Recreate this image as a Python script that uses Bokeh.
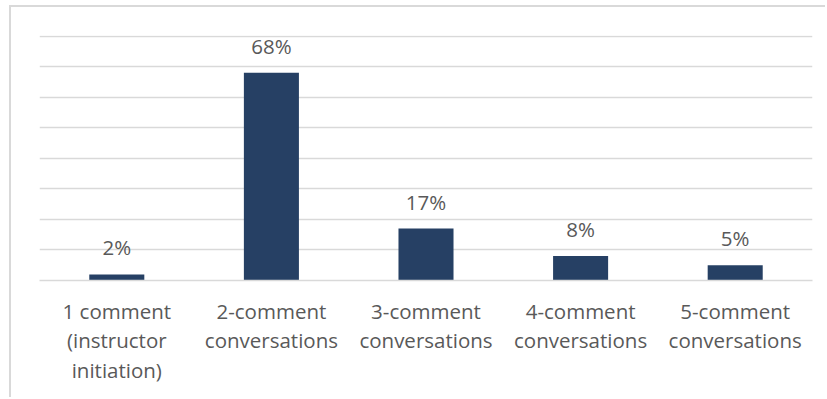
from bokeh.plotting import figure
from bokeh.models import ColumnDataSource, LabelSet, Range1d, FixedTicker
from bokeh.core.properties import value
from bokeh.embed import file_html
from bokeh.resources import INLINE

categories = ["1 comment\n(instructor\ninitiation)", "2-comment\nconversations", "3-comment\nconversations",
              "4-comment\nconversations", "5-comment\nconversations"]
values = [2, 68, 17, 8, 5]
labels = ["2%", "68%", "17%", "8%", "5%"]
y_ticks = [0, 10, 20, 30, 40, 50, 60, 70, 80]

src = ColumnDataSource(dict(cat=categories, val=values, lab=labels))

p = figure(x_range=categories, y_range=Range1d(0, 80.2), width=816, height=392,
           output_backend="svg", toolbar_location=None,
           min_border_left=28, min_border_right=15, min_border_top=28, min_border_bottom=119)
p.styles = {"margin-left": "9px", "margin-top": "5px",
            "border-left": "2px solid #d9d9d9", "border-top": "2px solid #d9d9d9"}
p.outline_line_color = None
p.background_fill_color = "white"
p.border_fill_color = "white"

p.vbar(x="cat", top="val", width=0.356, source=src, fill_color="#264064", line_color=None)

p.add_layout(LabelSet(x="cat", y="val", text="lab", source=src, text_align="center",
                      text_baseline="alphabetic", y_offset=19, text_font=value("Open Sans"),
                      text_font_size="20.5px", text_color="#595959"))

p.yaxis.visible = False
p.ygrid.ticker = FixedTicker(ticks=y_ticks)
p.ygrid.grid_line_color = "#d9d9d9"
p.ygrid.grid_line_width = 1.5
p.xgrid.grid_line_color = None

ax = p.xaxis[0]
ax.axis_line_color = "#d9d9d9"
ax.axis_line_width = 1.5
ax.major_tick_line_color = None
ax.minor_tick_line_color = None
ax.major_label_text_font = "Open Sans"
ax.major_label_text_font_size = "20.5px"
ax.major_label_text_color = "#595959"
ax.major_label_text_line_height = 1.07
ax.major_label_standoff = 10
ax.major_label_orientation = "horizontal"

open("out.html", "w").write(file_html(p, INLINE))
